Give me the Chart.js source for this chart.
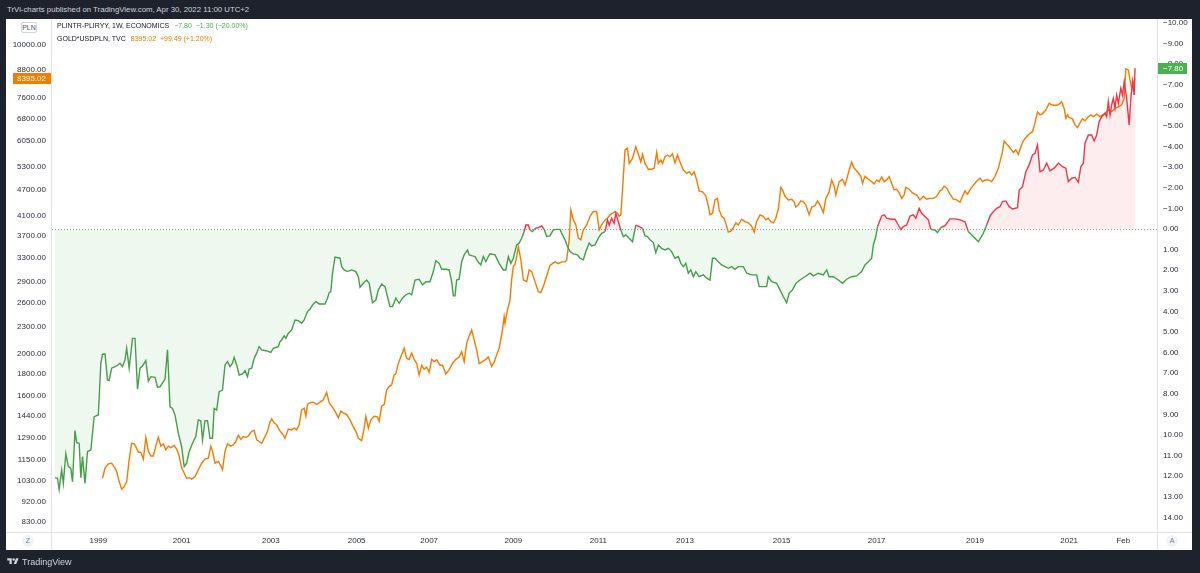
<!DOCTYPE html>
<html><head><meta charset="utf-8">
<title>PLINTR-PLIRYY vs GOLD*USDPLN</title>
<script src="https://cdn.jsdelivr.net/npm/chart.js"></script>
<style>
html,body{margin:0;padding:0;}
body{width:1200px;height:573px;background:#1e222d;position:relative;overflow:hidden;font-family:"Liberation Sans",Arial,sans-serif;}
#title{position:absolute;left:7px;top:5px;font-size:7.8px;line-height:10px;color:#d1d4dc;white-space:nowrap;}
#panel{position:absolute;left:6px;top:19px;width:1186px;height:531px;background:#ffffff;overflow:hidden;}
#chart{position:absolute;left:0;top:0;}
.sep{position:absolute;background:#e0e3eb;}
#legend{position:absolute;left:51px;top:1px;font-size:7px;line-height:12.5px;color:#131722;white-space:nowrap;}
#legend span{margin-left:5px;}
.g{color:#4caf50}.o{color:#f57c00}
#pln{position:absolute;left:15px;top:3px;width:14px;height:9px;border:1px solid #d1d4dc;border-radius:2px;font-size:7px;line-height:9px;text-align:center;color:#50535e;background:#fff;}
.btn{position:absolute;top:516px;width:12px;height:12px;border-radius:6px;background:#f0f3fa;font-size:7px;line-height:12px;text-align:center;color:#787b86;}
#footer{position:absolute;left:7px;top:557px;height:10px;font-size:9px;line-height:10px;color:#d1d4dc;white-space:nowrap;}
#footer svg{vertical-align:top;margin-right:3px;}
</style>
</head>
<body>
<div id="title">TrVi-charts published on TradingView.com, Apr 30, 2022 11:00 UTC+2</div>
<div id="panel">
  <canvas id="chart" width="1186" height="531"></canvas>
  <div class="sep" style="left:45px;top:0;width:1px;height:531px"></div>
  <div class="sep" style="left:1151px;top:0;width:1px;height:531px"></div>
  <div class="sep" style="left:0;top:513px;width:1186px;height:1px"></div>
  <div id="pln">PLN</div>
  <div id="legend">PLINTR-PLIRYY, 1W, ECONOMICS<span class="g">&minus;7.80&nbsp;&nbsp;&minus;1.30 (&minus;20.00%)</span><br>GOLD*USDPLN, TVC<span class="o">8395.02&nbsp;&nbsp;+99.49 (+1.20%)</span></div>
  <div class="btn" style="left:16px">Z</div>
  <div class="btn" style="left:1160px">A</div>
</div>
<div id="footer"><svg width="12" height="9" viewBox="0 0 36 28"><path d="M14 22H7V11H0V4h14v18zM28 22h-8l7.5-18h8L28 22z" fill="#d1d4dc"/><circle cx="20" cy="8" r="4" fill="#d1d4dc"/></svg>TradingView</div>

<script>
// ---- data (x = weekly bar number on the chart's time axis) ----
const realRate = [[0,12.07],[3,12.10],[5,12.64],[8,11.70],[10,12.35],[13,10.92],[16,11.54],[19,11.62],[21,12.27],[24,9.79],[26,10.37],[29,10.40],[31,12.07],[33,11.05],[36,12.35],[39,10.81],[43,10.73],[47,9.11],[52,9.03],[55,6.52],[57,6.08],[60,6.07],[63,7.33],[65,7.36],[68,6.76],[74,6.65],[78,6.52],[81,6.68],[84,6.36],[86,5.79],[89,6.76],[93,5.31],[96,5.31],[99,7.78],[102,6.76],[105,6.65],[109,6.39],[112,7.38],[115,7.17],[120,7.20],[123,7.68],[126,7.66],[132,7.30],[135,5.87],[138,8.63],[141,8.71],[144,9.03],[148,9.92],[152,10.57],[155,11.54],[158,11.37],[161,10.81],[165,10.40],[169,10.08],[172,9.27],[175,9.31],[177,10.24],[180,9.31],[183,9.31],[186,10.16],[189,10.16],[191,8.71],[194,8.79],[197,7.90],[201,7.82],[204,6.60],[207,6.44],[210,6.68],[213,6.52],[215,6.23],[218,6.60],[221,7.09],[225,7.04],[228,6.88],[231,7.17],[233,6.80],[236,6.76],[239,6.28],[242,6.03],[245,5.71],[248,5.87],[253,5.91],[259,5.99],[262,5.79],[268,5.71],[270,5.47],
[272,5.39],[275,5.19],[277,5.31],[280,5.06],[284,4.90],[288,4.42],[292,4.45],[296,4.58],[299,4.42],[303,4.01],[306,3.90],[309,3.69],[313,3.53],[317,3.64],[324,3.64],[327,3.36],[329,3.09],[331,3.04],[333,2.15],[336,1.37],[342,1.42],[344,1.83],[347,1.99],[351,2.07],[356,1.99],[361,2.07],[364,2.32],[366,2.83],[370,2.64],[374,2.48],[377,2.64],[381,3.58],[385,3.45],[388,2.96],[392,2.68],[396,2.80],[399,3.29],[402,3.77],[405,3.77],[409,3.36],[413,3.61],[417,3.36],[421,3.20],[425,3.12],[428,3.20],[432,2.48],[437,2.44],[441,2.72],[445,2.56],[450,2.56],[454,2.07],[457,1.54],[461,1.67],[464,1.96],[469,1.96],[473,1.99],[476,2.56],[478,3.25],[480,3.25],[482,2.48],[485,2.44],[488,1.59],[491,1.26],[495,1.02],[497,1.26],[501,1.31],[504,1.34],[508,1.62],[511,1.75],[514,1.34],[517,1.59],[520,1.34],
[522,1.21],[528,1.26],[533,1.67],[538,1.99],[541,1.99],[544,1.34],[547,1.67],[550,1.42],[554,0.78],[557,0.69],[560,0.45],[563,0.13],[565,-0.19],[568,-0.19],[570,0.05],[573,0.13],[576,-0.03],[580,-0.06],[584,-0.15],[587,0.02],[590,0.37],[594,0.34],[598,0.05],[602,0.02],[606,0.02],[609,0.29],[612,0.53],[615,0.86],[618,1.10],[622,1.21],[627,1.26],[630,1.42],[634,1.50],[637,1.10],[641,0.69],[644,0.83],[648,0.78],[652,0.45],[656,0.21],[660,0.13],[663,-0.44],[665,-0.19],[668,-0.52],[671,-0.28],[673,-0.76],[676,-0.35],[679,0.05],[682,0.37],[685,0.29],[689,0.45],[693,0.62],[697,-0.19],[701,-0.11],[705,-0.03],[708,0.34],[711,0.37],[714,0.53],[718,0.66],[721,1.15],[724,0.78],[728,0.94],[732,1.02],[736,0.94],[740,1.10],[744,1.42],[748,1.34],[751,1.67],[754,1.83],[757,1.67],[760,2.15],[763,1.99],[766,2.32],[769,2.07],[773,2.32],[778,2.23],[782,2.39],[786,2.48],
[789,1.42],[792,1.42],[796,1.59],[800,1.75],[804,1.83],[808,1.91],[812,1.83],[816,1.96],[820,1.83],[826,1.83],[830,2.15],[836,2.23],[842,2.23],[845,2.80],[850,2.80],[854,2.80],[856,2.32],[860,2.56],[866,2.64],[870,2.96],[874,3.29],[878,3.58],[881,3.12],[885,2.96],[889,2.64],[894,2.48],[900,2.32],[906,2.15],[910,2.28],[916,2.15],[922,2.23],[926,1.99],[929,2.32],[934,2.32],[940,2.48],[945,2.64],[950,2.44],[956,2.32],[962,2.28],[968,2.07],[972,1.75],[976,1.59],[980,1.42],[982,0.78],[985,0.37],[987,-0.11],[992,-0.63],[995,-0.68],[998,-0.52],[1004,-0.47],[1008,-0.47],[1012,-0.19],[1015,0.02],[1018,-0.11],[1022,-0.19],[1026,-0.63],[1030,-0.68],[1033,-0.52],[1037,-1.00],[1040,-0.76],[1044,-0.60],[1048,-0.44],[1051,0.02],[1056,0.05],[1059,0.18],
[1063,-0.06],[1068,-0.16],[1074,-0.49],[1080,-0.49],[1086,-0.44],[1092,-0.35],[1096,0.13],[1100,0.29],[1104,0.45],[1108,0.62],[1111,0.42],[1114,0.21],[1118,-0.19],[1122,-0.63],[1126,-0.84],[1130,-1.00],[1134,-1.08],[1137,-1.33],[1141,-1.36],[1145,-1.08],[1149,-0.97],[1155,-1.03],[1157,-1.89],[1161,-2.05],[1165,-2.78],[1169,-3.11],[1173,-3.59],[1176,-3.67],[1179,-4.08],[1182,-2.78],[1186,-2.86],[1190,-3.19],[1194,-2.82],[1199,-2.95],[1204,-3.19],[1209,-3.02],[1213,-2.95],[1216,-2.30],[1220,-2.46],[1224,-2.50],[1228,-2.27],[1231,-3.02],[1234,-3.19],[1236,-4.16],[1240,-4.56],[1244,-4.56],[1247,-4.27],[1250,-4.56],[1253,-5.21],[1256,-5.45],[1260,-5.62],[1262,-5.45],[1264,-6.18],[1266,-5.53],[1268,-6.02],[1270,-6.34],[1272,-5.86],[1274,-6.50],[1276,-6.10],[1279,-6.83],[1281,-6.50],[1283,-7.15],[1286,-6.34],[1289,-5.05],[1291,-6.34],[1293,-7.15],[1295,-6.50],[1296,-7.80]];

const goldPLN = [[57,1042],[60,1099],[64,1123],[68,1127],[71,1106],[74,1080],[77,1024],[80,984],[83,997],[86,1024],[89,1147],[92,1251],[95,1247],[97,1229],[100,1193],[103,1193],[106,1151],[109,1290],[112,1199],[115,1170],[118,1170],[121,1232],[124,1290],[127,1232],[130,1247],[133,1209],[136,1232],[139,1222],[143,1236],[146,1213],[149,1170],[152,1099],[155,1071],[158,1042],[161,1045],[164,1037],[168,1051],[172,1089],[176,1127],[180,1151],[184,1157],[187,1232],[189,1199],[192,1127],[196,1137],[199,1112],[201,1089],[204,1199],[207,1247],[211,1232],[214,1241],[217,1262],[220,1305],[223,1276],[226,1295],[229,1290],[232,1299],[236,1331],[239,1338],[242,1273],[245,1262],[248,1251],[252,1295],[255,1331],[258,1397],[260,1421],[263,1392],[266,1378],
[269,1341],[273,1313],[276,1284],[280,1347],[284,1341],[287,1353],[290,1341],[293,1378],[296,1489],[299,1502],[301,1440],[303,1531],[306,1545],[310,1550],[314,1531],[318,1550],[322,1569],[326,1631],[329,1545],[332,1518],[336,1479],[340,1428],[343,1479],[346,1466],[350,1453],[354,1413],[358,1362],[361,1331],[364,1284],[368,1268],[371,1353],[373,1440],[376,1353],[379,1413],[383,1440],[387,1435],[389,1402],[392,1518],[395,1531],[398,1653],[401,1681],[404,1696],[407,1787],[409,1797],[412,1897],[416,1984],[419,2054],[422,1948],[425,1938],[428,2003],[431,1938],[434,1897],[437,1787],[440,1880],[443,1841],[446,1862],[449,1810],[452,1938],[455,1915],[458,1933],[462,1880],[465,1880],[469,1797],[473,1834],[477,1897],[481,1938],[485,1962],[488,2018],[491,1915],[494,2108],[497,2190],[500,2260],[503,2145],[506,2036],[509,1895],[513,1915],[517,1938],[520,1962],[524,1868],[527,1910],[530,1984],[533,2054],
[537,2260],[539,2422],[540,2341],[543,2509],[546,2643],[548,2934],[550,3154],[552,3181],[554,3318],[556,3491],[559,3257],[562,2934],[566,2908],[569,3091],[572,3064],[576,2908],[580,2760],[583,2746],[586,2837],[590,2995],[594,3166],[597,3194],[600,3223],[604,3194],[608,3223],[612,3223],[614,3251],[617,3615],[619,4228],[622,4013],[625,3909],[628,3648],[631,3615],[634,3809],[638,3909],[642,4087],[646,4193],[650,4193],[653,3809],[656,3909],[660,4013],[663,4048],[666,4120],[669,4157],[672,4193],[675,4157],[677,4087],[679,4120],[681,4693],[684,5782],[687,5832],[689,5390],[693,5534],[697,5880],[700,5652],[703,5430],[705,5652],[708,5390],[712,5227],[716,5227],[719,5255],[722,5710],[724,5390],[727,5488],[729,5390],[732,5580],[735,5630],[738,5580],[741,5670],[744,5400],[747,5630],[750,5430],[754,5209],[758,5119],[761,5160],[764,5075],[767,5160],[770,4944],[773,4670],[777,4645],[781,4550],[784,4315],[786,4120],[789,4157],[792,4454],[795,4490],[797,4228],
[800,4087],[803,4048],[806,3882],[808,3764],[811,3784],[814,3852],[817,3952],[820,3909],[824,4027],[828,3978],[832,3952],[836,3882],[839,3764],[842,3978],[846,4120],[850,4087],[853,4013],[856,4048],[859,3978],[862,3952],[865,4048],[868,4254],[871,4755],[873,4693],[876,4540],[880,4454],[884,4470],[887,4410],[889,4290],[892,4340],[895,4433],[898,4410],[901,4340],[905,4120],[908,4290],[912,4320],[915,4433],[918,4340],[922,4170],[925,4490],[929,4645],[932,4944],[935,4785],[937,4570],[941,4900],[945,4960],[948,4810],[951,5040],[953,5209],[956,5430],[959,5255],[963,5160],[967,5040],[969,4860],[972,5040],[976,4960],[980,4900],[983,4840],[986,4944],[989,4900],[992,5020],[995,4900],[998,4944],[1001,5030],[1004,4860],[1007,4693],[1010,4710],[1013,4620],[1016,4490],[1019,4570],[1021,4755],[1025,4710],[1029,4620],[1034,4570],[1038,4454],[1042,4540],[1046,4470],[1050,4490],[1054,4490],[1058,4540],[1062,4670],
[1064,4693],[1067,4785],[1070,4740],[1074,4590],[1078,4470],[1082,4454],[1086,4400],[1089,4540],[1092,4670],[1095,4590],[1098,4693],[1102,4810],[1106,4910],[1110,4990],[1113,4900],[1116,4944],[1120,4944],[1124,4900],[1128,5040],[1132,5255],[1135,5534],[1137,5730],[1139,6060],[1141,5990],[1144,5910],[1147,5810],[1150,5710],[1153,5782],[1156,5650],[1159,5880],[1162,6060],[1166,6200],[1170,6310],[1173,6360],[1176,6660],[1179,7050],[1182,6940],[1185,6990],[1189,7123],[1193,7380],[1196,7320],[1200,7290],[1204,7320],[1208,7440],[1211,7180],[1213,6820],[1215,6940],[1217,6850],[1221,6800],[1224,6590],[1227,6500],[1230,6660],[1233,6800],[1236,6730],[1239,6850],[1243,6940],[1246,6880],[1250,6970],[1254,6880],[1257,6940],[1260,6990],[1264,7123],[1268,7060],[1272,7180],[1276,7240],[1280,7320],[1283,7570],[1285,8830],[1288,8777],[1290,8331],[1292,7980],[1294,8200],[1296,8395.02]];

const goldTicks = [830,920,1030,1150,1290,1440,1600,1800,2000,2300,2600,2900,3300,3700,4100,4700,5300,6050,6800,7600,8800,10000];
const rateTicks = [-10,-9,-8,-7,-6,-5,-4,-3,-2,-1,0,1,2,3,4,5,6,7,8,9,10,11,12,13,14];
const timeTickBars = [52,152,259,362,449,550,652,756,872,986,1104,1217,1282];
const timeTickLabels = ['1999','2001','2003','2005','2007','2009','2011','2013','2015','2017','2019','2021','Feb'];
const goldRange = [787, 11453];
const rateRange = [-10.19, 14.71];
const barRange = [-3.6, 1322.4];
const rateBaseline = 0;

// ---- styles ----
const GREEN = '#43a047', RED = '#f23645', ORANGE = '#f57c00';
const LABEL = '#2a2e39';
Chart.defaults.font.family = '"Liberation Sans", Arial, sans-serif';
Chart.defaults.font.size = 8;

const fmtRate = v => (v < 0 ? '\u2212' : '') + Math.abs(v).toFixed(2);

const overlay = {
  id: 'overlay',
  beforeDatasetsDraw(chart) {
    const {ctx, chartArea: a} = chart;
    const y = Math.round(chart.scales.yR.getPixelForValue(rateBaseline)) + 0.5;
    ctx.save();
    ctx.strokeStyle = '#9598a1';
    ctx.lineWidth = 1;
    ctx.setLineDash([1, 2]);
    ctx.beginPath(); ctx.moveTo(a.left, y); ctx.lineTo(a.right, y); ctx.stroke();
    ctx.restore();
  },
  afterDraw(chart) {
    const {ctx, chartArea: a} = chart;
    const lastGold = goldPLN[goldPLN.length - 1][1];
    const lastRate = realRate[realRate.length - 1][1];
    ctx.save();
    ctx.font = '8px "Liberation Sans", Arial, sans-serif';
    ctx.textBaseline = 'middle';
    let y = chart.scales.yL.getPixelForValue(lastGold);
    ctx.fillStyle = ORANGE;
    ctx.fillRect(7, Math.round(y - 5.5), a.left - 7, 11);
    ctx.fillStyle = '#ffffff';
    ctx.textAlign = 'right';
    ctx.fillText(lastGold.toFixed(2), a.left - 6, y + 0.5);
    y = chart.scales.yR.getPixelForValue(lastRate);
    ctx.fillStyle = '#4caf50';
    ctx.fillRect(a.right, Math.round(y - 5.5), 30, 11);
    ctx.fillStyle = '#ffffff';
    ctx.textAlign = 'left';
    ctx.fillText(fmtRate(lastRate), a.right + 6, y + 0.5);
    ctx.restore();
  }
};

new Chart(document.getElementById('chart'), {
  type: 'line',
  data: {
    datasets: [
      {
        label: 'PLINTR-PLIRYY',
        data: realRate.map(([x, y]) => ({x, y})),
        yAxisID: 'yR',
        borderColor: GREEN,
        borderWidth: 1.4,
        pointRadius: 0,
        tension: 0,
        segment: {
          borderColor: c => ((c.p0.parsed.y + c.p1.parsed.y) / 2 < rateBaseline ? RED : GREEN)
        },
        fill: {target: {value: rateBaseline}, above: 'rgba(242,54,69,0.09)', below: 'rgba(76,175,80,0.09)'}
      },
      {
        label: 'GOLD*USDPLN',
        data: goldPLN.map(([x, y]) => ({x, y})),
        yAxisID: 'yL',
        borderColor: ORANGE,
        borderWidth: 1.4,
        pointRadius: 0,
        tension: 0,
        fill: false
      }
    ]
  },
  options: {
    responsive: false,
    animation: false,
    devicePixelRatio: 1,
    layout: {padding: 0},
    plugins: {legend: {display: false}, tooltip: {enabled: false}},
    scales: {
      x: {
        type: 'linear', min: barRange[0], max: barRange[1],
        grid: {display: false, drawTicks: false}, border: {display: false},
        ticks: {padding: 4, autoSkip: false, maxRotation: 0, color: LABEL,
                callback: (v, i) => timeTickLabels[i]},
        afterBuildTicks: s => { s.ticks = timeTickBars.map(v => ({value: v})); },
        afterFit: s => { s.height = 18; s.paddingLeft = 0; s.paddingRight = 0; }
      },
      yL: {
        type: 'logarithmic', position: 'left', min: goldRange[0], max: goldRange[1],
        grid: {display: false, drawTicks: false}, border: {display: false},
        ticks: {padding: 6, autoSkip: false, color: LABEL, callback: v => Number(v).toFixed(2)},
        afterBuildTicks: s => { s.ticks = goldTicks.map(v => ({value: v})); },
        afterFit: s => { s.width = 46; s.paddingTop = 0; s.paddingBottom = 0; }
      },
      yR: {
        type: 'linear', position: 'right', reverse: true, min: rateRange[0], max: rateRange[1],
        grid: {display: false, drawTicks: false}, border: {display: false},
        ticks: {padding: 6, autoSkip: false, color: LABEL, callback: v => fmtRate(v)},
        afterBuildTicks: s => { s.ticks = rateTicks.map(v => ({value: v})); },
        afterFit: s => { s.width = 35; s.paddingTop = 0; s.paddingBottom = 0; }
      }
    }
  },
  plugins: [overlay]
});
</script>
</body></html>
